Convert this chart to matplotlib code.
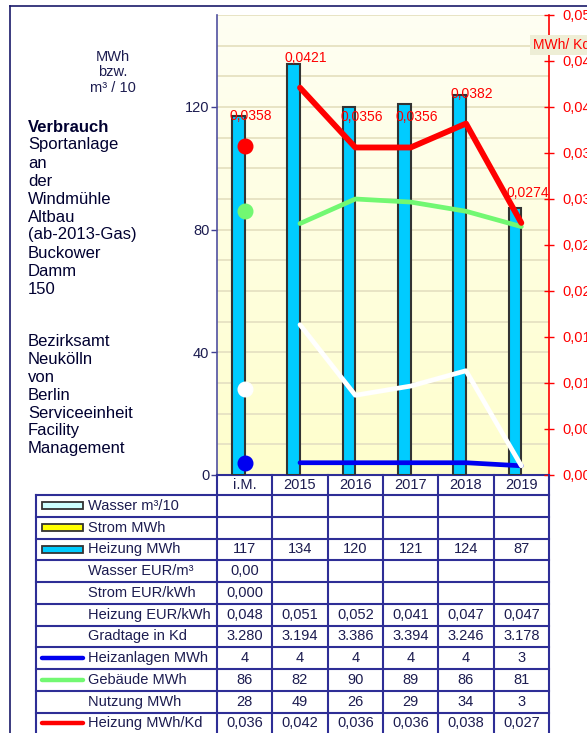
import numpy as np
import matplotlib
matplotlib.use("Agg")
import matplotlib.pyplot as plt
from matplotlib.colors import LinearSegmentedColormap
from matplotlib.ticker import MultipleLocator, FuncFormatter, FixedLocator
from matplotlib.patches import Rectangle

plt.rcParams['font.family'] = ['Liberation Sans', 'DejaVu Sans']

# ---------------- data ----------------
categories = ['i.M.', '2015', '2016', '2017', '2018', '2019']
wasser_m3_10 = [None, None, None, None, None, None]
strom_mwh = [None, None, None, None, None, None]
heizung_mwh = [117, 134, 120, 121, 124, 87]
wasser_eur_m3 = [0.00, None, None, None, None, None]
strom_eur_kwh = [0.000, None, None, None, None, None]
heizung_eur_kwh = [0.048, 0.051, 0.052, 0.041, 0.047, 0.047]
gradtage_kd = [3280, 3194, 3386, 3394, 3246, 3178]
heizanlagen_mwh = [4, 4, 4, 4, 4, 3]
gebaeude_mwh = [86, 82, 90, 89, 86, 81]
nutzung_mwh = [28, 49, 26, 29, 34, 3]
heizung_mwh_kd = [0.0358, 0.0421, 0.0356, 0.0356, 0.0382, 0.0274]

title_lines = ['Sportanlage', 'an', 'der', 'Windmühle', 'Altbau', '(ab-2013-Gas)',
               'Buckower', 'Damm', '150']
org_lines = ['Bezirksamt', 'Neukölln', 'von', 'Berlin', 'Serviceeinheit',
             'Facility', 'Management']
unit_lines = ['MWh', 'bzw.', 'm³ / 10']

# ---------------- styling ----------------
W, H = 587, 733
NAVY = '#1c1c50'
GRIDC = '#2e2e96'
RED = '#ff0000'
GREEN = '#72f872'
BLUE = '#0000f0'
CYAN = '#00ccff'

fig = plt.figure(figsize=(W / 100, H / 100), dpi=100)

px_left, px_right, px_top, px_bottom = 217, 549, 15, 475
ax = fig.add_axes([px_left / W, (H - px_bottom) / H,
                   (px_right - px_left) / W, (px_bottom - px_top) / H])
n = len(categories)
x = np.arange(n)

cmap = LinearSegmentedColormap.from_list('bg', ['#fefef3', '#ffffcc'])
ax.imshow(np.linspace(0, 1, 256).reshape(-1, 1), extent=[-0.5, n - 0.5, 0, 150],
          aspect='auto', cmap=cmap, zorder=0)
ax.set_xlim(-0.5, n - 0.5)
ax.set_ylim(0, 150)
ax.set_axisbelow(True)
ax.yaxis.set_major_locator(FixedLocator([0, 40, 80, 120]))
ax.yaxis.set_minor_locator(MultipleLocator(10))
ax.yaxis.grid(True, which='both', color='#e8e4c4', lw=1.4)
ax.tick_params(axis='y', which='major', length=4, width=1, color='#404090',
               labelcolor=NAVY, labelsize=10.5, pad=1.5)
ax.tick_params(axis='y', which='minor', length=0)
ax.tick_params(axis='x', length=0, labelbottom=False)
for s in ['top', 'right']:
    ax.spines[s].set_visible(False)
ax.spines['left'].set_color('#5050a0')
ax.spines['left'].set_linewidth(1.2)
ax.spines['bottom'].set_color(GRIDC)
ax.spines['bottom'].set_linewidth(1.5)

bw = 0.23
ax.bar(x - bw / 2, heizung_mwh, width=bw, color=CYAN, edgecolor='#333333',
       linewidth=1.5, zorder=3)

lw = 3.4
ms = 10.5
ax.plot(x[1:], heizanlagen_mwh[1:], color=BLUE, lw=lw, solid_capstyle='round', zorder=4)
ax.plot([x[0]], [heizanlagen_mwh[0]], 'o', color=BLUE, ms=ms, zorder=4)
ax.plot(x[1:], nutzung_mwh[1:], color='white', lw=lw, solid_capstyle='round', zorder=5)
ax.plot([x[0]], [nutzung_mwh[0]], 'o', color='white', ms=ms, zorder=5)
ax.plot(x[1:], gebaeude_mwh[1:], color=GREEN, lw=lw, solid_capstyle='round', zorder=5)
ax.plot([x[0]], [gebaeude_mwh[0]], 'o', color=GREEN, ms=ms, zorder=5)

ax2 = ax.twinx()
ax2.set_ylim(0, 0.05)
ax2.yaxis.set_major_locator(MultipleLocator(0.005))
ax2.yaxis.set_major_formatter(FuncFormatter(lambda v, p: f"{v:.3f}".replace('.', ',')))
ax2.tick_params(axis='y', direction='inout', length=7, width=1, color=RED,
                labelcolor=RED, labelsize=10.5, pad=6)
for s in ['top', 'left', 'bottom']:
    ax2.spines[s].set_visible(False)
ax2.spines['right'].set_color(RED)
ax2.spines['right'].set_linewidth(1.2)
ax2.plot(x[1:], heizung_mwh_kd[1:], color=RED, lw=4.2, solid_capstyle='round', zorder=6)
ax2.plot([x[0]], [heizung_mwh_kd[0]], 'o', color=RED, ms=ms, zorder=6)
for xi, v in zip(x, heizung_mwh_kd):
    ax2.annotate(f"{v:.4f}".replace('.', ','), (xi, v), xytext=(6, 30),
                 textcoords='offset pixels', ha='center', va='center',
                 color=RED, fontsize=10, zorder=7)

# ---------------- overlay (texts, table) ----------------
ov = fig.add_axes([0, 0, 1, 1], zorder=10)
ov.set_xlim(0, W)
ov.set_ylim(H, 0)
ov.axis('off')

# outer frame
ov.plot([10, W], [6, 6], color='#1a1a6a', lw=1.2)
ov.plot([10, 10], [6, H], color='#1a1a6a', lw=1.2)

# unit label on right
ov.text(533, 45, 'MWh/ Kd', color=RED, fontsize=10, ha='left', va='center',
        bbox=dict(boxstyle='square,pad=0.25', facecolor='#eeeed6', edgecolor='none'))

# left texts
for i, t in enumerate(unit_lines):
    ov.text(113, 57 + i * 15.5, t, ha='center', va='center', fontsize=10.5, color=NAVY)
ov.text(28, 127, 'Verbrauch', ha='left', va='center', fontsize=12,
        fontweight='bold', color='#000030')
for i, t in enumerate(title_lines):
    ov.text(28, 145 + i * 18, t, ha='left', va='center', fontsize=12, color='#000030')
for i, t in enumerate(org_lines):
    ov.text(28, 341 + i * 18, t, ha='left', va='center', fontsize=12, color='#000030')

# table
col_w = (px_right - px_left) / n
tab_left = 36
tab_top = 495
row_h = 21.75


def fmt_num(v, nd):
    if v is None:
        return ''
    return f"{v:.{nd}f}".replace('.', ',')


def fmt_int(v):
    if v is None:
        return ''
    return f"{v:,}".replace(',', '.')


rows = [
    ('Wasser m³/10', ('bar', '#ccffff'), [fmt_int(v) for v in wasser_m3_10]),
    ('Strom MWh', ('bar', '#ffff00'), [fmt_int(v) for v in strom_mwh]),
    ('Heizung MWh', ('bar', CYAN), [fmt_int(v) for v in heizung_mwh]),
    ('Wasser EUR/m³', None, [fmt_num(v, 2) for v in wasser_eur_m3]),
    ('Strom EUR/kWh', None, [fmt_num(v, 3) for v in strom_eur_kwh]),
    ('Heizung EUR/kWh', None, [fmt_num(v, 3) for v in heizung_eur_kwh]),
    ('Gradtage in Kd', None, [fmt_int(v) for v in gradtage_kd]),
    ('Heizanlagen MWh', ('line', BLUE), [fmt_int(v) for v in heizanlagen_mwh]),
    ('Gebäude MWh', ('line', GREEN), [fmt_int(v) for v in gebaeude_mwh]),
    ('Nutzung MWh', None, [fmt_int(v) for v in nutzung_mwh]),
    ('Heizung MWh/Kd', ('line', RED), [fmt_num(v, 3) for v in heizung_mwh_kd]),
]

tab_bottom = tab_top + row_h * len(rows)
# header labels
for j, c in enumerate(categories):
    ov.text(px_left + (j + 0.5) * col_w, 485, c, ha='center', va='center',
            fontsize=10.5, color=NAVY)
# vertical lines
for j in range(n + 1):
    ov.plot([px_left + j * col_w] * 2, [px_bottom, tab_bottom + 2], color=GRIDC, lw=1.5)
ov.plot([tab_left, tab_left], [tab_top, tab_bottom + 2], color=GRIDC, lw=1.5)
# horizontal lines
for r in range(len(rows) + 1):
    yy = tab_top + r * row_h
    ov.plot([tab_left, px_right], [yy, yy], color=GRIDC, lw=1.5)

for r, (label, key, vals) in enumerate(rows):
    yc = tab_top + (r + 0.5) * row_h
    ov.text(88, yc, label, ha='left', va='center', fontsize=10.5, color=NAVY)
    if key is not None:
        kind, col = key
        if kind == 'bar':
            ov.add_patch(Rectangle((42, yc - 3.5), 41, 7, facecolor=col,
                                   edgecolor='#333333', lw=1.3))
        else:
            ov.plot([42, 83], [yc, yc], color=col, lw=3.2, solid_capstyle='round')
    for j, s in enumerate(vals):
        ov.text(px_left + (j + 0.5) * col_w, yc, s, ha='center', va='center',
                fontsize=10.5, color=NAVY)

fig.savefig('out.png', dpi=100)
